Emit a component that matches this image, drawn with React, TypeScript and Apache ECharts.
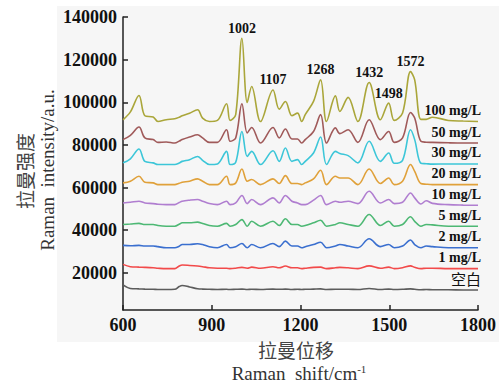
import React, { useEffect, useRef } from "react";
import * as echarts from "echarts";

// Raman shift sampling points (cm^-1)
const WAVENUMBERS = [
  600, 625, 654, 674, 702, 718, 746, 775, 790, 800,
  825, 852, 869, 892, 919, 950, 962, 981, 1002, 1020,
  1035, 1065, 1107, 1128, 1149, 1171, 1190, 1204, 1216, 1244,
  1268, 1288, 1318, 1333, 1361, 1394, 1432, 1470, 1498, 1517,
  1545, 1572, 1586, 1607, 1625, 1646, 1700, 1750, 1800,
];

// Offset spectra, one per concentration (a.u.)
const BLANK = [
  14400, 12700, 12500, 12400, 12300, 12200, 12200, 12300, 13600, 14100,
  13400, 12600, 12400, 12300, 12200, 12300, 12200, 12300, 12400, 12200,
  12300, 12200, 12400, 12300, 12400, 12200, 12300, 12200, 12300, 12400,
  12500, 12200, 12300, 12300, 12300, 12200, 12700, 12200, 12400, 12200,
  12300, 12500, 12300, 12100, 12200, 12100, 12100, 12000, 12000,
];
const C1 = [
  24000, 22900, 22700, 22600, 22400, 22200, 22000, 22000, 23200, 23700,
  23500, 23200, 22900, 22400, 22200, 22200, 22000, 22200, 22600, 22200,
  22700, 22200, 22900, 22400, 23200, 22400, 22400, 22000, 22200, 22600,
  22700, 22000, 22400, 22600, 22400, 22000, 23300, 22200, 22700, 22000,
  22400, 23300, 22600, 22000, 22200, 22200, 22000, 22000, 22000,
];
const C2 = [
  32900, 32700, 32900, 32600, 32600, 32300, 31800, 31800, 32500, 33300,
  33300, 33700, 33300, 32300, 31800, 33300, 31800, 32300, 33800, 31800,
  33300, 31800, 33800, 32300, 34900, 32600, 32600, 31800, 32300, 33300,
  34400, 31800, 32600, 33300, 32600, 31800, 36000, 32300, 33300, 31800,
  32600, 35400, 33300, 31800, 32600, 32300, 31800, 31800, 31800,
];
const C5 = [
  42700, 42900, 43200, 42700, 42700, 42200, 41900, 41900, 42800, 43500,
  43500, 43800, 43200, 42200, 41900, 43200, 41900, 42700, 45000, 41900,
  44200, 41900, 44200, 42200, 45400, 42700, 42700, 41900, 42200, 43500,
  44700, 41900, 42700, 43500, 42700, 41900, 47400, 42200, 44200, 41900,
  42700, 46300, 44200, 41900, 42700, 42500, 41900, 41900, 41900,
];
const C10 = [
  52800, 53100, 53600, 52800, 52500, 52200, 52000, 52000, 53000, 53600,
  54100, 54400, 53600, 52500, 52000, 53600, 52000, 52800, 56300, 52500,
  54400, 52000, 55200, 52800, 56300, 53600, 52800, 52000, 52000, 54100,
  56300, 52000, 53600, 53100, 53600, 52500, 58300, 52800, 54400, 52500,
  53100, 57500, 55200, 52300, 53800, 52600, 52000, 51800, 51700,
];
const C20 = [
  62200, 63000, 65300, 62500, 62200, 61400, 61400, 61400, 62000, 62500,
  63000, 64100, 63000, 61400, 61400, 65300, 61400, 62200, 68700, 63000,
  63800, 61400, 64100, 61900, 65600, 61900, 61900, 61400, 62200, 64100,
  68100, 61400, 65300, 64500, 64500, 61400, 68700, 61900, 64500, 61400,
  63000, 70800, 67600, 61900, 61600, 61400, 61400, 61400, 61400,
];
const C30 = [
  71600, 73500, 78100, 72300, 71600, 70800, 70800, 70800, 71500, 72300,
  73100, 74600, 72800, 70800, 71100, 77000, 70800, 71900, 86300, 74600,
  77000, 70800, 77300, 72300, 78600, 72300, 73100, 70800, 72300, 76200,
  83700, 70800, 77000, 76000, 75000, 71600, 81700, 72300, 76200, 71400,
  72800, 87100, 82500, 71400, 71200, 71000, 71100, 71100, 71100,
];
const C50 = [
  82500, 84500, 88400, 83300, 82500, 81200, 81400, 80900, 81800, 82500,
  83700, 84800, 83300, 81200, 81200, 87100, 81700, 83300, 99300, 85600,
  88200, 80900, 88200, 83300, 87500, 82800, 82800, 80900, 82500, 86300,
  94200, 80900, 88000, 85300, 87100, 81200, 91800, 82500, 86300, 81200,
  83300, 95200, 92600, 81700, 81300, 81200, 81000, 80900, 80900,
];
const C100 = [
  91800, 95500, 103200, 93700, 93100, 91000, 91800, 92300, 93000, 93700,
  94900, 96500, 92600, 91000, 91500, 99300, 91500, 94200, 130000, 99900,
  107400, 91000, 105800, 96800, 100400, 93700, 94900, 91000, 94200, 100400,
  110500, 91000, 103000, 95700, 102300, 91000, 109300, 91800, 99600, 91500,
  95000, 114400, 110500, 92000, 92000, 93000, 91500, 91200, 91000,
];

const SERIES_NAMES = ["空白", "1 mg/L", "2 mg/L", "5 mg/L", "10 mg/L", "20 mg/L", "30 mg/L", "50 mg/L", "100 mg/L"];
const SERIES_DATA = [BLANK, C1, C2, C5, C10, C20, C30, C50, C100];
const SERIES_COLORS = ["#5c5c5c", "#f24a4a", "#3a6fcf", "#4db874", "#b07ed0", "#e0a13a", "#3cc6d8", "#a05a5a", "#aaa63a"];

// Characteristic band positions marked on the top spectrum
const PEAK_POSITIONS = [1002, 1107, 1268, 1432, 1498, 1572];

const X_TICKS = [600, 900, 1200, 1500, 1800];
const Y_TICKS = [20000, 40000, 60000, 80000, 100000, 120000, 140000];

const SERIF = "Liberation Serif";
const CJK = "Noto Sans CJK SC";

export default function App() {
  const ref = useRef<HTMLDivElement>(null);

  useEffect(() => {
    if (!ref.current) return;
    const chart = echarts.init(ref.current, undefined, { renderer: "svg" });

    const series: any[] = SERIES_DATA.map((vals, i) => {
      const isTop = i === SERIES_DATA.length - 1;
      const markData: any[] = [
        {
          coord: [WAVENUMBERS[WAVENUMBERS.length - 1], vals[vals.length - 1]],
          label: {
            show: true,
            formatter: SERIES_NAMES[i],
            position: "inside",
            align: "right",
            verticalAlign: "middle",
            offset: [3, -11],
            fontFamily: i === 0 ? CJK : SERIF,
            fontWeight: i === 0 ? "normal" : "bold",
            fontSize: i === 0 ? 15 : 14,
            color: "#111",
          },
        },
      ];
      if (isTop) {
        PEAK_POSITIONS.forEach((p) => {
          const idx = WAVENUMBERS.indexOf(p);
          markData.push({
            coord: [p, vals[idx]],
            label: {
              show: true,
              formatter: String(p),
              position: "top",
              distance: 3,
              fontFamily: SERIF,
              fontWeight: "bold",
              fontSize: 14,
              color: "#111",
            },
          });
        });
      }
      return {
        name: SERIES_NAMES[i],
        type: "line",
        data: WAVENUMBERS.map((w, k) => [w, vals[k]]),
        smooth: 0.35,
        showSymbol: false,
        lineStyle: { color: SERIES_COLORS[i], width: 1.6 },
        itemStyle: { color: SERIES_COLORS[i] },
        z: 2 + i,
        markPoint: {
          symbol: "circle",
          symbolSize: 0,
          silent: true,
          itemStyle: { color: "transparent" },
          data: markData,
        },
      };
    });

    // Tick labels are drawn through a rich-text style so the serif face is kept
    const axisLabelStyle = {
      show: true,
      color: "#111",
      formatter: (v: number) => `{t|${v}}`,
      rich: {
        t: { fontFamily: SERIF, fontWeight: "bold", fontSize: 18, color: "#111" },
      },
    };

    chart.setOption({
      animation: false,
      backgroundColor: "#ffffff",
      textStyle: { fontFamily: SERIF },
      graphic: [
        {
          type: "rect",
          shape: { x: 57, y: 6, width: 442, height: 336 },
          style: { fill: "#f6f6f6" },
          z: -10,
          silent: true,
        },
        {
          type: "text",
          x: 24,
          y: 171,
          rotation: Math.PI / 2,
          style: {
            text: "拉曼强度",
            fontFamily: CJK,
            fontSize: 19,
            fill: "#444",
            align: "center",
            verticalAlign: "middle",
          },
        },
        {
          type: "text",
          x: 47,
          y: 170,
          rotation: Math.PI / 2,
          style: {
            text: "Raman\u2002intensity/a.u.",
            fontFamily: SERIF,
            fontSize: 19,
            fill: "#333",
            align: "center",
            verticalAlign: "middle",
          },
        },
        {
          type: "text",
          x: 296,
          y: 349,
          style: {
            text: "拉曼位移",
            fontFamily: CJK,
            fontSize: 19,
            fill: "#444",
            align: "center",
            verticalAlign: "middle",
          },
        },
        {
          type: "text",
          x: 299,
          y: 373,
          style: {
            text: "Raman\u2002shift/cm{sup|-1}",
            rich: { sup: { fontSize: 11, verticalAlign: "top", padding: [0, 0, 9, 0], fontFamily: SERIF, fill: "#333" } },
            fontFamily: SERIF,
            fontSize: 19,
            fill: "#333",
            align: "center",
            verticalAlign: "middle",
          },
        },
      ],
      grid: { left: 123, top: 17, right: 18, bottom: 73 },
      xAxis: {
        type: "value",
        min: 600,
        max: 1800,
        interval: 300,
        axisLine: { show: true, lineStyle: { color: "#222", width: 1.5 } },
        axisTick: { show: true, inside: true, length: 5, lineStyle: { color: "#222", width: 1.5 }, customValues: X_TICKS },
        axisLabel: { ...axisLabelStyle, margin: 6, customValues: X_TICKS },
        splitLine: { show: false },
      },
      yAxis: {
        type: "value",
        min: 2600,
        max: 140000,
        axisLine: { show: true, lineStyle: { color: "#222", width: 1.5 } },
        axisTick: { show: true, inside: true, length: 5, lineStyle: { color: "#222", width: 1.5 }, customValues: Y_TICKS },
        axisLabel: { ...axisLabelStyle, margin: 6, customValues: Y_TICKS },
        splitLine: { show: false },
      },
      series,
    });

    return () => chart.dispose();
  }, []);

  return (
    <div
      ref={ref}
      style={{ position: "absolute", left: 0, top: 0, width: 499, height: 383 }}
    />
  );
}
